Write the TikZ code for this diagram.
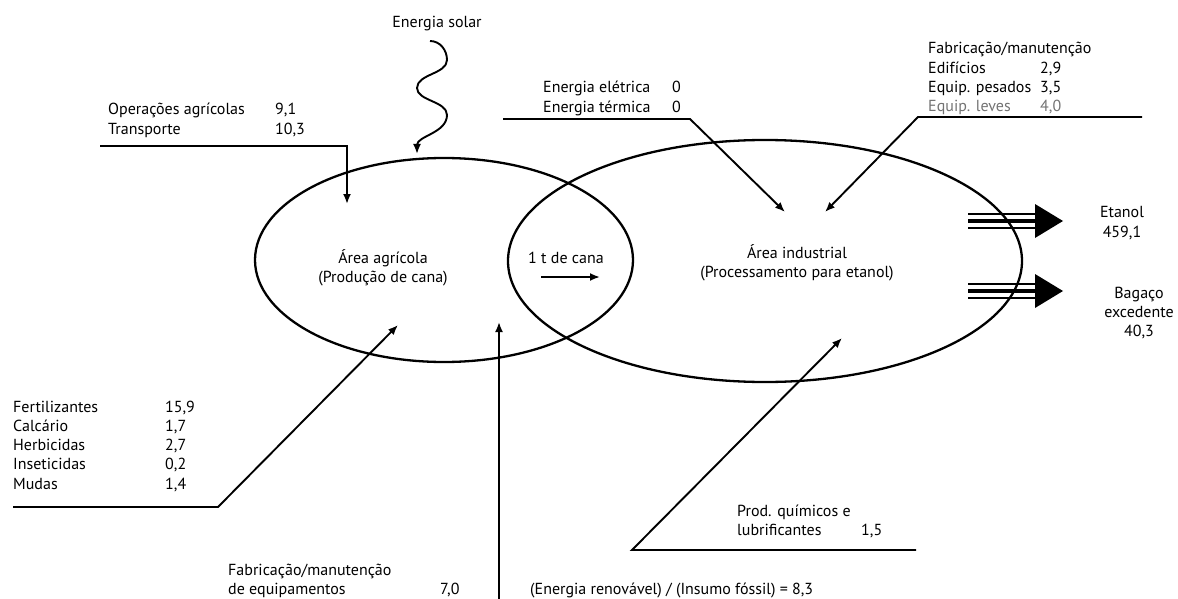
\documentclass[tikz,border=0pt]{standalone}
\usepackage{fontspec}
\setmainfont{PT Sans}
\usetikzlibrary{arrows.meta,positioning}

\begin{document}
\begin{tikzpicture}[x=1pt,y=-1pt,
  every node/.style={inner sep=0pt,font=\fontsize{16}{19.3}\selectfont},
  area/.style={line width=2.3pt},
  feed/.style={line width=1.9pt,line join=miter},
  flow/.style={feed,-{Latex[length=10pt,width=8pt]}},
  band/.style={line width=1.2pt},
  bandcore/.style={line width=3.8pt}]
  \useasboundingbox (0,0) rectangle (1178,599);

  % the two areas
  \draw[area] (444,260) ellipse [x radius=189pt, y radius=102pt];
  \draw[area] (765,261) ellipse [x radius=257pt, y radius=121pt];

  % labels of the areas
  \node[align=center] (agricola) at (383,268) {Área agrícola\\(Produção de cana)};
  \node[align=center] (industrial) at (797,263) {Área industrial\\(Processamento para etanol)};
  \node (cana) at (566,258) {1 t de cana};
  \coordinate (canaa) at (541,277);
  \coordinate (canab) at (600,277);
  \draw[flow] (canaa) -- (canab);

  % inputs
  \node[anchor=base] (solar) at (437,28) {Energia solar};
  \node[anchor=base west] (opagr) at (108,115) {\begin{tabular}[t]{@{}p{167pt}@{}l@{}}
    Operações agrícolas & 9,1\\ Transporte & 10,3\end{tabular}};
  \node[anchor=base west] (energ) at (543,93) {\begin{tabular}[t]{@{}p{129pt}@{}l@{}}
    Energia elétrica & 0\\ Energia térmica & 0\end{tabular}};
  \node[anchor=base west] (fabind) at (928,54) {\begin{tabular}[t]{@{}p{112pt}@{}l@{}}
    \multicolumn{2}{@{}l@{}}{Fabricação/manutenção}\\
    Edifícios & 2,9\\ Equip. pesados & 3,5\\
    \textcolor{black!55}{Equip. leves} & \textcolor{black!55}{4,0}\end{tabular}};
  \node[anchor=base west] (insumos) at (13,412) {\begin{tabular}[t]{@{}p{152pt}@{}l@{}}
    Fertilizantes & 15,9\\ Calcário & 1,7\\ Herbicidas & 2,7\\
    Inseticidas & 0,2\\ Mudas & 1,4\end{tabular}};
  \node[anchor=base west] (fabequip) at (228,575) {\begin{tabular}[t]{@{}p{212pt}@{}l@{}}
    Fabricação/manutenção & \\ de equipamentos & 7,0\end{tabular}};
  \node[anchor=base west] (quim) at (737,516) {\begin{tabular}[t]{@{}p{124pt}@{}l@{}}
    Prod. químicos e & \\ lubrificantes & 1,5\end{tabular}};
  \node[anchor=base west] (razao) at (530,594) {(Energia renovável) / (Insumo fóssil) = 8,3};

  % outputs
  \node[align=center] (etanol) at (1122,223) {Etanol\\459,1};
  \node[align=center] (bagaco) at (1139,313) {Bagaço\\excedente\\40,3};

  % end points of the feeders
  \coordinate (solartip) at (417,154);
  \coordinate (opa) at (100,146);
  \coordinate (opb) at (347,146);
  \coordinate (optip) at (347,204);
  \coordinate (ena) at (503,119);
  \coordinate (enb) at (690,119);
  \coordinate (entip) at (785,212);
  \coordinate (fba) at (1142,117);
  \coordinate (fbb) at (918,117);
  \coordinate (fbtip) at (825,212);
  \coordinate (ina) at (13,507);
  \coordinate (inb) at (218,507);
  \coordinate (intip) at (398,325);
  \coordinate (eqa) at (499,599);
  \coordinate (eqtip) at (499,322);
  \coordinate (qua) at (916,550);
  \coordinate (qub) at (632,550);
  \coordinate (qutip) at (842,338);

  % sun
  \draw[flow] (430,41) .. controls (440,41) and (447,50) .. (447,60)
    .. controls (447,74) and (417,74) .. (417,88)
    .. controls (417,101) and (447,101) .. (447,115)
    .. controls (447,133) and (417,136) .. (solartip);

  % feeders
  \draw[flow] (opa) -- (opb) -- (optip);
  \draw[flow] (ena) -- (enb) -- (entip);
  \draw[flow] (fba) -- (fbb) -- (fbtip);
  \draw[flow] (ina) -- (inb) -- (intip);
  \draw[flow] (eqa) -- (eqtip);
  \draw[flow] (qua) -- (qub) -- (qutip);

  % product arrows (three strands and a big head)
  \foreach \y in {221,291} {
    \draw[band] (968,\y-7) -- (1036,\y-7);
    \draw[band] (968,\y+7) -- (1036,\y+7);
    \draw[bandcore] (968,\y) -- (1036,\y);
    \fill (1035,\y-17) -- (1063,\y) -- (1035,\y+17) -- cycle;
  }

\end{tikzpicture}
\end{document}
